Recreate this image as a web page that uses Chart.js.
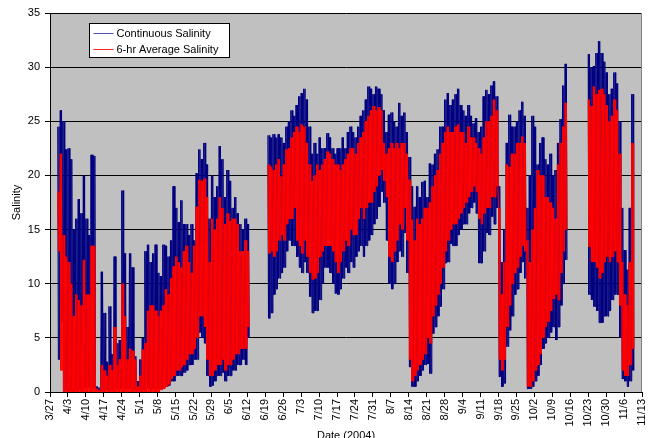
<!DOCTYPE html>
<html>
<head>
<meta charset="utf-8">
<script src="https://cdn.jsdelivr.net/npm/chart.js@4.4.0/dist/chart.umd.min.js"></script>
<style>
  html, body { margin: 0; padding: 0; background: #fff; }
</style>
</head>
<body>
<canvas id="salinityChart" width="648" height="438"></canvas>
<script>
// day 0 = 3/27/2004, one entry per day starting at firstDay
const firstDay = 3;
const weekLabels = ['3/27','4/3','4/10','4/17','4/24','5/1','5/8','5/15','5/22','5/29','6/5','6/12',
  '6/19','6/26','7/3','7/10','7/17','7/24','7/31','8/7','8/14','8/21','8/28','9/4','9/11','9/18',
  '9/25','10/2','10/9','10/16','10/23','10/30','11/6','11/13'];

// daily tidal high / low of the continuous record
const contHigh = [
  24.5, 26, 25, 22.4, 22.5, 21.5, 15,
  16, 17.8, 16.5, 20, 16, 14.5, 21.9,
  21.8, 0.5, 0.4, 11.1, 7.3, 2.8, 7.9,
  3.5, 12.5, 4.5, 4.8, 18.6, 12.8, 6,
  12.8, 11.5, 3.3, 1, 3, 5, 13,
  13.6, 12, 12.8, 13.6, 11, 10.7, 13.6,
  13.5, 12.5, 14, 19, 17, 15.7, 17.7,
  15.5, 15.5, 14.5, 15.5, 14, 20.2, 22.4,
  21.5, 23, 21, 16, 20, 18, 19,
  22.7, 21.5, 18, 20.5, 19.5, 17, 18,
  16.5, 15.5, 15, 16, 15.5, null, null,
  null, null, null, null, null, 23.7, 23.5,
  23.8, 23.5, 23.8, 23.5, 23, 24.5, 25,
  26, 25.5, 26.5, 27.3, 27.6, 28, 27,
  24.5, 22, 23, 22, 23.5, 22.5, 22.5,
  23.9, 23.5, 22.5, 22, 22.5, 22.5, 23.5,
  22.5, 24, 24.5, 24, 23.5, 24.5, 25.5,
  26, 27, 28.2, 28, 27.5, 28.2, 28,
  27.5, 26, 24, 25.6, 25.8, 25, 24.5,
  26.7, 25.5, 25.8, 24, 21.7, 19, 17.1,
  19, 18, 19.4, 19.5, 18, 21.1, 21,
  22, 22.4, 24.5, 24.5, 27, 27.6, 26.5,
  27, 27.5, 28, 26.5, 26, 25.5, 26.5,
  25.5, 24.8, 25.3, 24, 24.5, 27.3, 27.9,
  27.5, 28.3, 28.7, 27.3, 19, 12, 15,
  23, 25.6, 24.5, 24.5, 25, 26, 26.8,
  25.5, 17, 20, 25.5, 24.5, 21, 23,
  23.5, 21.5, 21, 22, 20, 20.5, 23,
  25.2, 28.3, 30.3, null, null, null, null,
  null, null, null, null, 31.2, 30, 30.1,
  31.3, 32.4, 31.3, 30.5, 29.5, 27.5, 28,
  29.5, 28.5, 25, 17, 13.1, 11.3, 17,
  27.5
];
const contLow = [
  3, 6.5, 0.2, 0.1, 0.1, 0.1, 0.2,
  0.2, 0.2, 0.3, 0.4, 0.4, 0.4, 0.4,
  0.3, 0.1, 0.1, 0.1, 0.2, 0.2, 0.2,
  0.2, 0.3, 0.3, 0.3, 0.4, 0.3, 0.3,
  0.3, 0.2, 0.2, 0.1, 0.2, 0.2, 0.3,
  0.3, 0.3, 0.3, 0.3, 0.3, 0.3, 0.4,
  0.5, 0.6, 1, 1, 1.5, 1.5, 1.5,
  1.8, 2, 2.5, 2.5, 3, 3, 5.5,
  5, 4.5, 1.5, 0.5, 0.6, 1, 1.5,
  1.5, 1.8, 1, 1.5, 1.5, 2, 2,
  2.5, 2.5, 3, 2.5, 5, null, null,
  null, null, null, null, null, 6.8, 7.3,
  9, 9.5, 10.5, 11, 11.5, 13, 14,
  13.5, 13.5, 12.5, 11.5, 11, 12, 11,
  8.8, 7.3, 7.5, 7.5, 8.5, 10, 11.5,
  11.5, 11, 10, 9.1, 9, 9.5, 10.5,
  11.5, 11, 12, 11.5, 12.5, 13, 13.5,
  12.5, 13.5, 14, 14.5, 15.5, 16, 17.1,
  18.5, 17.5, 14, 10, 9.5, 10, 12,
  13, 12.5, 14.7, 11, 2.3, 0.5, 0.5,
  1, 1.5, 2, 2.5, 2.6, 1.7, 5.4,
  6, 7, 7.9, 9.5, 11.9, 12, 13.7,
  13.5, 13.5, 14.5, 15, 15.5, 15.5, 16.5,
  17, 17.5, 16.5, 11.9, 11.9, 13, 14.7,
  14.5, 16.2, 15.5, 17, 1.4, 0.5, 0.8,
  4.2, 5.7, 7, 9, 9.5, 11, 12,
  10.5, 0.3, 0.3, 0.5, 1, 1.5, 2.5,
  4, 4.5, 5, 5.5, 6, 4.8, 6,
  8, 10, 12.2, null, null, null, null,
  null, null, null, null, 9, 8.5, 7.9,
  7.5, 6.4, 6.4, 7, 7, 7.5, 8.5,
  9, 9, 5, 1.2, 1, 0.5, 1,
  2
];

// daily high / low of the 6-hr average
const avgHigh = [
  18.5, 22, 14.5, 12.5, 12, 10, 7,
  9, 8.5, 8, 12.2, 9, 9, 13.5,
  13.5, 0.3, 0.2, 2.5, 2, 1.5, 2.5,
  2, 6, 2.5, 3, 10, 7, 3,
  4, 3.8, 3, 0.5, 1.5, 3.9, 4.5,
  7.5, 8, 8, 7.5, 7, 7.5, 8,
  9.5, 9, 10.5, 11.6, 12.5, 12, 11.5,
  13, 13.5, 12, 11, 13.5, 17.1, 19.6,
  19.5, 19.7, 18, 12, 16, 15, 16,
  18, 17, 15.5, 16.5, 15.8, 16, 16,
  15.5, 13, 13, 14, 13, null, null,
  null, null, null, null, null, 21, 20.8,
  20.5, 21, 21.5, 19.9, 21, 22.4, 22.5,
  23.5, 24, 24.5, 24, 24.7, 24.5, 23,
  21, 19.5, 20, 21, 20.5, 21, 21.5,
  22.2, 22, 21.5, 21, 21, 20.5, 21,
  21.5, 22, 22.5, 22.5, 22, 23, 23.5,
  24, 25, 25.5, 26, 26.4, 26, 26.3,
  26, 23, 22, 22.5, 23, 22.5, 23,
  22.5, 23, 23, 22, 19.6, 15.9, 14,
  16, 15.5, 16, 17, 17, 17.5, 19,
  20, 20.5, 22, 23, 24, 24.5, 24,
  24, 24.5, 24.7, 24, 24, 23, 24.5,
  23.5, 23.5, 23, 22.5, 22, 23.5, 25,
  25, 25.5, 27, 26, 17, 9, 12,
  21, 20.8, 22, 22, 23, 23, 23.6,
  23, 14, 12, 15, 17, 20.5, 20,
  20, 18, 18, 17.5, 17, 16, 21,
  23, 24.5, 26.7, null, null, null, null,
  null, null, null, null, 27, 26.4, 28.2,
  27.5, 27.9, 28, 27.5, 26.5, 25, 25.5,
  27, 26, 22, 12, 9, 8, 12,
  23
];
const avgLow = [
  13, 2, 0, 0, 0, 0, 0,
  0, 0, 0, 0, 0, 0, 0,
  0, 0, 0, 0, 0, 0, 0,
  0, 0, 0, 0, 0, 0, 0,
  0, 0, 0, 0, 0, 0, 0,
  0, 0, 0, 0, 0, 0.2, 0.3,
  0.5, 0.7, 1.2, 1.5, 2, 2, 2.3,
  2.5, 3, 3.5, 3.5, 4, 5, 7,
  7, 6, 3, 1.5, 1.5, 2, 2.5,
  2.5, 3, 2, 2.5, 2.5, 3, 3.5,
  3.5, 4, 4, 4, 6, null, null,
  null, null, null, null, null, 12.8, 13,
  12.5, 13, 14, 14.5, 14, 15.5, 16,
  16, 17, 14, 13.5, 12.8, 14, 12.5,
  11, 10.4, 10.5, 11, 12.5, 13, 13.5,
  13.5, 13.5, 13, 12, 11, 12, 13,
  14, 13.5, 15, 14.5, 14.5, 16, 17,
  16, 17, 17.5, 17.5, 18.5, 19, 20,
  20.5, 19.5, 18, 12.5, 12, 13, 14,
  15.5, 15, 17, 14, 3, 1, 1.5,
  2, 2.5, 3, 3.5, 5, 4.5, 7,
  8, 9, 10, 11.5, 13, 14, 15,
  15.5, 15.5, 16, 16.5, 17, 17.5, 18,
  18.5, 19, 18.5, 16, 15.5, 16.5, 17,
  17, 18, 18, 19, 3, 2, 3,
  6, 8, 10, 11, 11.5, 12.5, 13.5,
  13, 0.5, 0.5, 1, 2, 2.5, 3.5,
  5, 6, 6.5, 7.5, 8.6, 9, 8.5,
  11, 13, 15, null, null, null, null,
  null, null, null, null, 13.4, 12, 12,
  11.5, 10.5, 11, 12, 12.5, 12, 12.5,
  13, 12, 8, 2, 1.5, 1.5, 2.5,
  4
];

const fontFamily = '"Liberation Sans", Arial, sans-serif';

// two tidal cycles per day, each reaching that day's high and low
function buildSeries(high, low) {
  const pts = [];
  high.forEach((h, i) => {
    const d = firstDay + i;
    if (h === null) {
      pts.push({ x: d + 0.5, y: null });
      return;
    }
    pts.push({ x: d, y: h });
    pts.push({ x: d + 0.25, y: low[i] });
    pts.push({ x: d + 0.5, y: h });
    pts.push({ x: d + 0.75, y: low[i] });
  });
  return pts;
}

const plotBackground = {
  id: 'plotBackground',
  beforeDraw(chart) {
    const { ctx, chartArea: a } = chart;
    ctx.save();
    ctx.fillStyle = '#fff';
    ctx.fillRect(0, 0, chart.width, chart.height);
    ctx.fillStyle = '#c0c0c0';
    ctx.fillRect(a.left, a.top, a.right - a.left, a.bottom - a.top);
    ctx.restore();
  },
  afterDraw(chart) {
    const { ctx, chartArea: a } = chart;
    ctx.save();
    ctx.strokeStyle = '#808080';
    ctx.lineWidth = 1;
    ctx.beginPath();
    ctx.moveTo(Math.round(a.right) - 0.5, a.top);
    ctx.lineTo(Math.round(a.right) - 0.5, a.bottom);
    ctx.stroke();
    ctx.restore();
  }
};

const boxLegend = {
  id: 'boxLegend',
  afterDraw(chart) {
    const ctx = chart.ctx;
    const x = 89.5, y = 23.5, w = 140, h = 34;
    ctx.save();
    ctx.fillStyle = '#fff';
    ctx.fillRect(x, y, w, h);
    ctx.strokeStyle = '#000';
    ctx.lineWidth = 1;
    ctx.strokeRect(x, y, w, h);
    ctx.font = '11px ' + fontFamily;
    ctx.textBaseline = 'middle';
    chart.data.datasets.forEach((ds, i) => {
      const ly = y + 10 + i * 16;
      ctx.strokeStyle = ds.legendColor;
      ctx.beginPath();
      ctx.moveTo(x + 4, ly);
      ctx.lineTo(x + 24, ly);
      ctx.stroke();
      ctx.fillStyle = '#000';
      ctx.fillText(ds.label, x + 27, ly + 0.5);
    });
    ctx.restore();
  }
};

new Chart(document.getElementById('salinityChart').getContext('2d'), {
  type: 'line',
  data: {
    datasets: [
      {
        label: 'Continuous Salinity',
        data: buildSeries(contHigh, contLow),
        borderColor: '#000080',
        legendColor: '#5050b8',
        borderWidth: 1,
        pointRadius: 0,
        spanGaps: false,
        order: 2
      },
      {
        label: '6-hr Average Salinity',
        data: buildSeries(avgHigh, avgLow),
        borderColor: '#ff0000',
        legendColor: '#ff2020',
        borderWidth: 1,
        pointRadius: 0,
        spanGaps: false,
        order: 1
      }
    ]
  },
  options: {
    responsive: false,
    animation: false,
    devicePixelRatio: 1,
    layout: { padding: { top: 13, right: 6, left: 0, bottom: 0 } },
    plugins: {
      legend: { display: false },
      tooltip: { enabled: false }
    },
    scales: {
      x: {
        type: 'linear',
        min: 0,
        max: 231,
        afterFit: s => { s.height = 46; s.paddingRight = 0; s.paddingLeft = 0; },
        ticks: {
          stepSize: 7,
          autoSkip: false,
          maxRotation: 90,
          minRotation: 90,
          padding: 2,
          color: '#000',
          font: { family: fontFamily, size: 11 },
          callback: v => weekLabels[Math.round(v / 7)]
        },
        grid: { drawOnChartArea: false, color: '#000', tickLength: 5 },
        border: { color: '#000' },
        title: {
          display: true,
          text: 'Date (2004)',
          color: '#000',
          font: { family: fontFamily, size: 11 },
          padding: { top: 0, bottom: -5 }
        }
      },
      y: {
        min: 0,
        max: 35,
        afterFit: s => { s.width = 50; },
        ticks: {
          stepSize: 5,
          padding: 5,
          color: '#000',
          font: { family: fontFamily, size: 11 }
        },
        grid: { color: '#000', tickLength: 5 },
        border: { color: '#000' },
        title: {
          display: true,
          text: 'Salinity',
          color: '#000',
          font: { family: fontFamily, size: 11 },
          padding: { top: 10, bottom: 0 }
        }
      }
    }
  },
  plugins: [plotBackground, boxLegend]
});
</script>
</body>
</html>
